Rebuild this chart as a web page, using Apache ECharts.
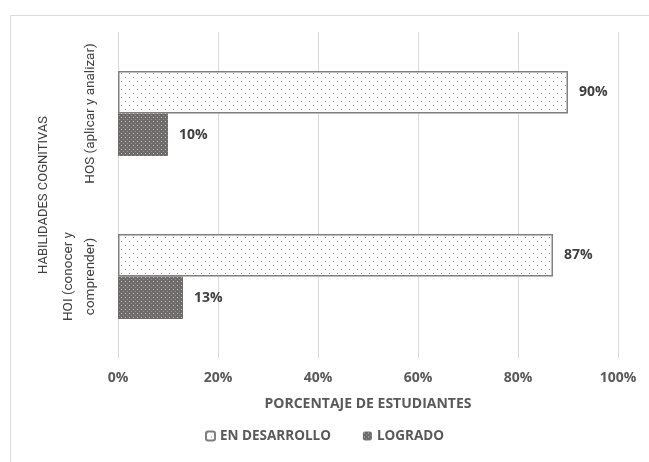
<!DOCTYPE html>
<html>
<head>
    <meta charset="utf-8">
    <title>Habilidades cognitivas</title>
    <script src="https://cdn.jsdelivr.net/npm/echarts@6/dist/echarts.min.js"></script>
    <style>
        html, body { margin: 0; padding: 0; background: #fff; }
        #main { width: 649px; height: 462px; }
    </style>
</head>
<body>
<div id="main"></div>
<script type="text/javascript">
    // datos
    var categorias = ['HOS (aplicar y analizar)', 'HOI (conocer y\ncomprender)'];
    var enDesarrollo = [90, 87];
    var logrado = [10, 13];
    var ticks = [0, 20, 40, 60, 80, 100];

    // tramas de relleno (puntos)
    function tramaClara() {
        var c = document.createElement('canvas');
        c.width = 8; c.height = 8;
        var ctx = c.getContext('2d');
        ctx.fillStyle = '#ffffff';
        ctx.fillRect(0, 0, 8, 8);
        ctx.fillStyle = '#9a9a9a';
        ctx.fillRect(1, 1, 1, 1);
        ctx.fillRect(5, 5, 1, 1);
        return c;
    }
    function tramaOscura() {
        var c = document.createElement('canvas');
        c.width = 4; c.height = 4;
        var ctx = c.getContext('2d');
        ctx.fillStyle = '#6e6a6a';
        ctx.fillRect(0, 0, 4, 4);
        ctx.fillStyle = '#c8c6c6';
        ctx.fillRect(1, 1, 1, 1);
        ctx.fillStyle = '#9a9696';
        ctx.fillRect(3, 3, 1, 1);
        return c;
    }

    var myChart = echarts.init(document.getElementById('main'));
    var fuente = 'Open Sans';
    var fuenteEstrecha = 'Roboto';

    var option = {
        animation: false,
        textStyle: { fontFamily: fuente },
        graphic: [{
            type: 'rect',
            shape: { x: 10.5, y: 15.5, width: 700, height: 500 },
            style: { fill: 'none', stroke: '#d9d9d9', lineWidth: 1 },
            silent: true
        }],
        grid: { left: 118, right: 31, top: 32, bottom: 104 },
        legend: {
            data: ['EN DESARROLLO', 'LOGRADO'],
            bottom: 14,
            left: 'center',
            itemWidth: 9,
            itemHeight: 9,
            itemGap: 32,
            textStyle: { fontFamily: fuente, fontWeight: 'bold', fontSize: 13.5, color: '#595959' }
        },
        xAxis: {
            type: 'value',
            min: 0,
            max: 100,
            interval: 20,
            name: 'PORCENTAJE DE ESTUDIANTES',
            nameLocation: 'middle',
            nameGap: 39,
            nameTextStyle: { fontFamily: fuente, fontWeight: 'bold', fontSize: 14, color: '#595959' },
            axisLine: { show: false },
            axisTick: { show: false },
            axisLabel: {
                margin: 13,
                fontFamily: fuente,
                fontWeight: 'bold',
                fontSize: 14,
                color: '#595959',
                formatter: function (v) { return ticks.indexOf(v) >= 0 ? v + '%' : ''; }
            },
            splitLine: { lineStyle: { color: '#d9d9d9', width: 1 } }
        },
        yAxis: {
            type: 'category',
            inverse: true,
            data: categorias,
            name: 'HABILIDADES COGNITIVAS',
            nameLocation: 'middle',
            nameGap: 67,
            nameRotate: 90,
            nameTextStyle: { fontFamily: fuenteEstrecha, fontSize: 13, color: '#404040' },
            axisLine: { show: false },
            axisTick: { show: false },
            axisLabel: {
                interval: 0,
                rotate: 90,
                margin: 16,
                fontFamily: fuenteEstrecha,
                fontSize: 13.5,
                lineHeight: 22,
                color: '#404040'
            }
        },
        series: [{
            name: 'EN DESARROLLO',
            type: 'bar',
            data: enDesarrollo,
            barGap: '0%',
            barCategoryGap: '48%',
            itemStyle: {
                color: { image: tramaClara(), repeat: 'repeat' },
                borderColor: '#7f7f7f',
                borderWidth: 1.5
            },
            label: {
                show: true,
                position: 'right',
                distance: 11,
                formatter: '{c}%',
                fontFamily: fuente,
                fontWeight: 'bold',
                fontSize: 14,
                color: '#404040'
            }
        }, {
            name: 'LOGRADO',
            type: 'bar',
            data: logrado,
            itemStyle: {
                color: { image: tramaOscura(), repeat: 'repeat' }
            },
            label: {
                show: true,
                position: 'right',
                distance: 11,
                formatter: '{c}%',
                fontFamily: fuente,
                fontWeight: 'bold',
                fontSize: 14,
                color: '#404040'
            }
        }]
    };
    myChart.setOption(option);
</script>
</body>
</html>
